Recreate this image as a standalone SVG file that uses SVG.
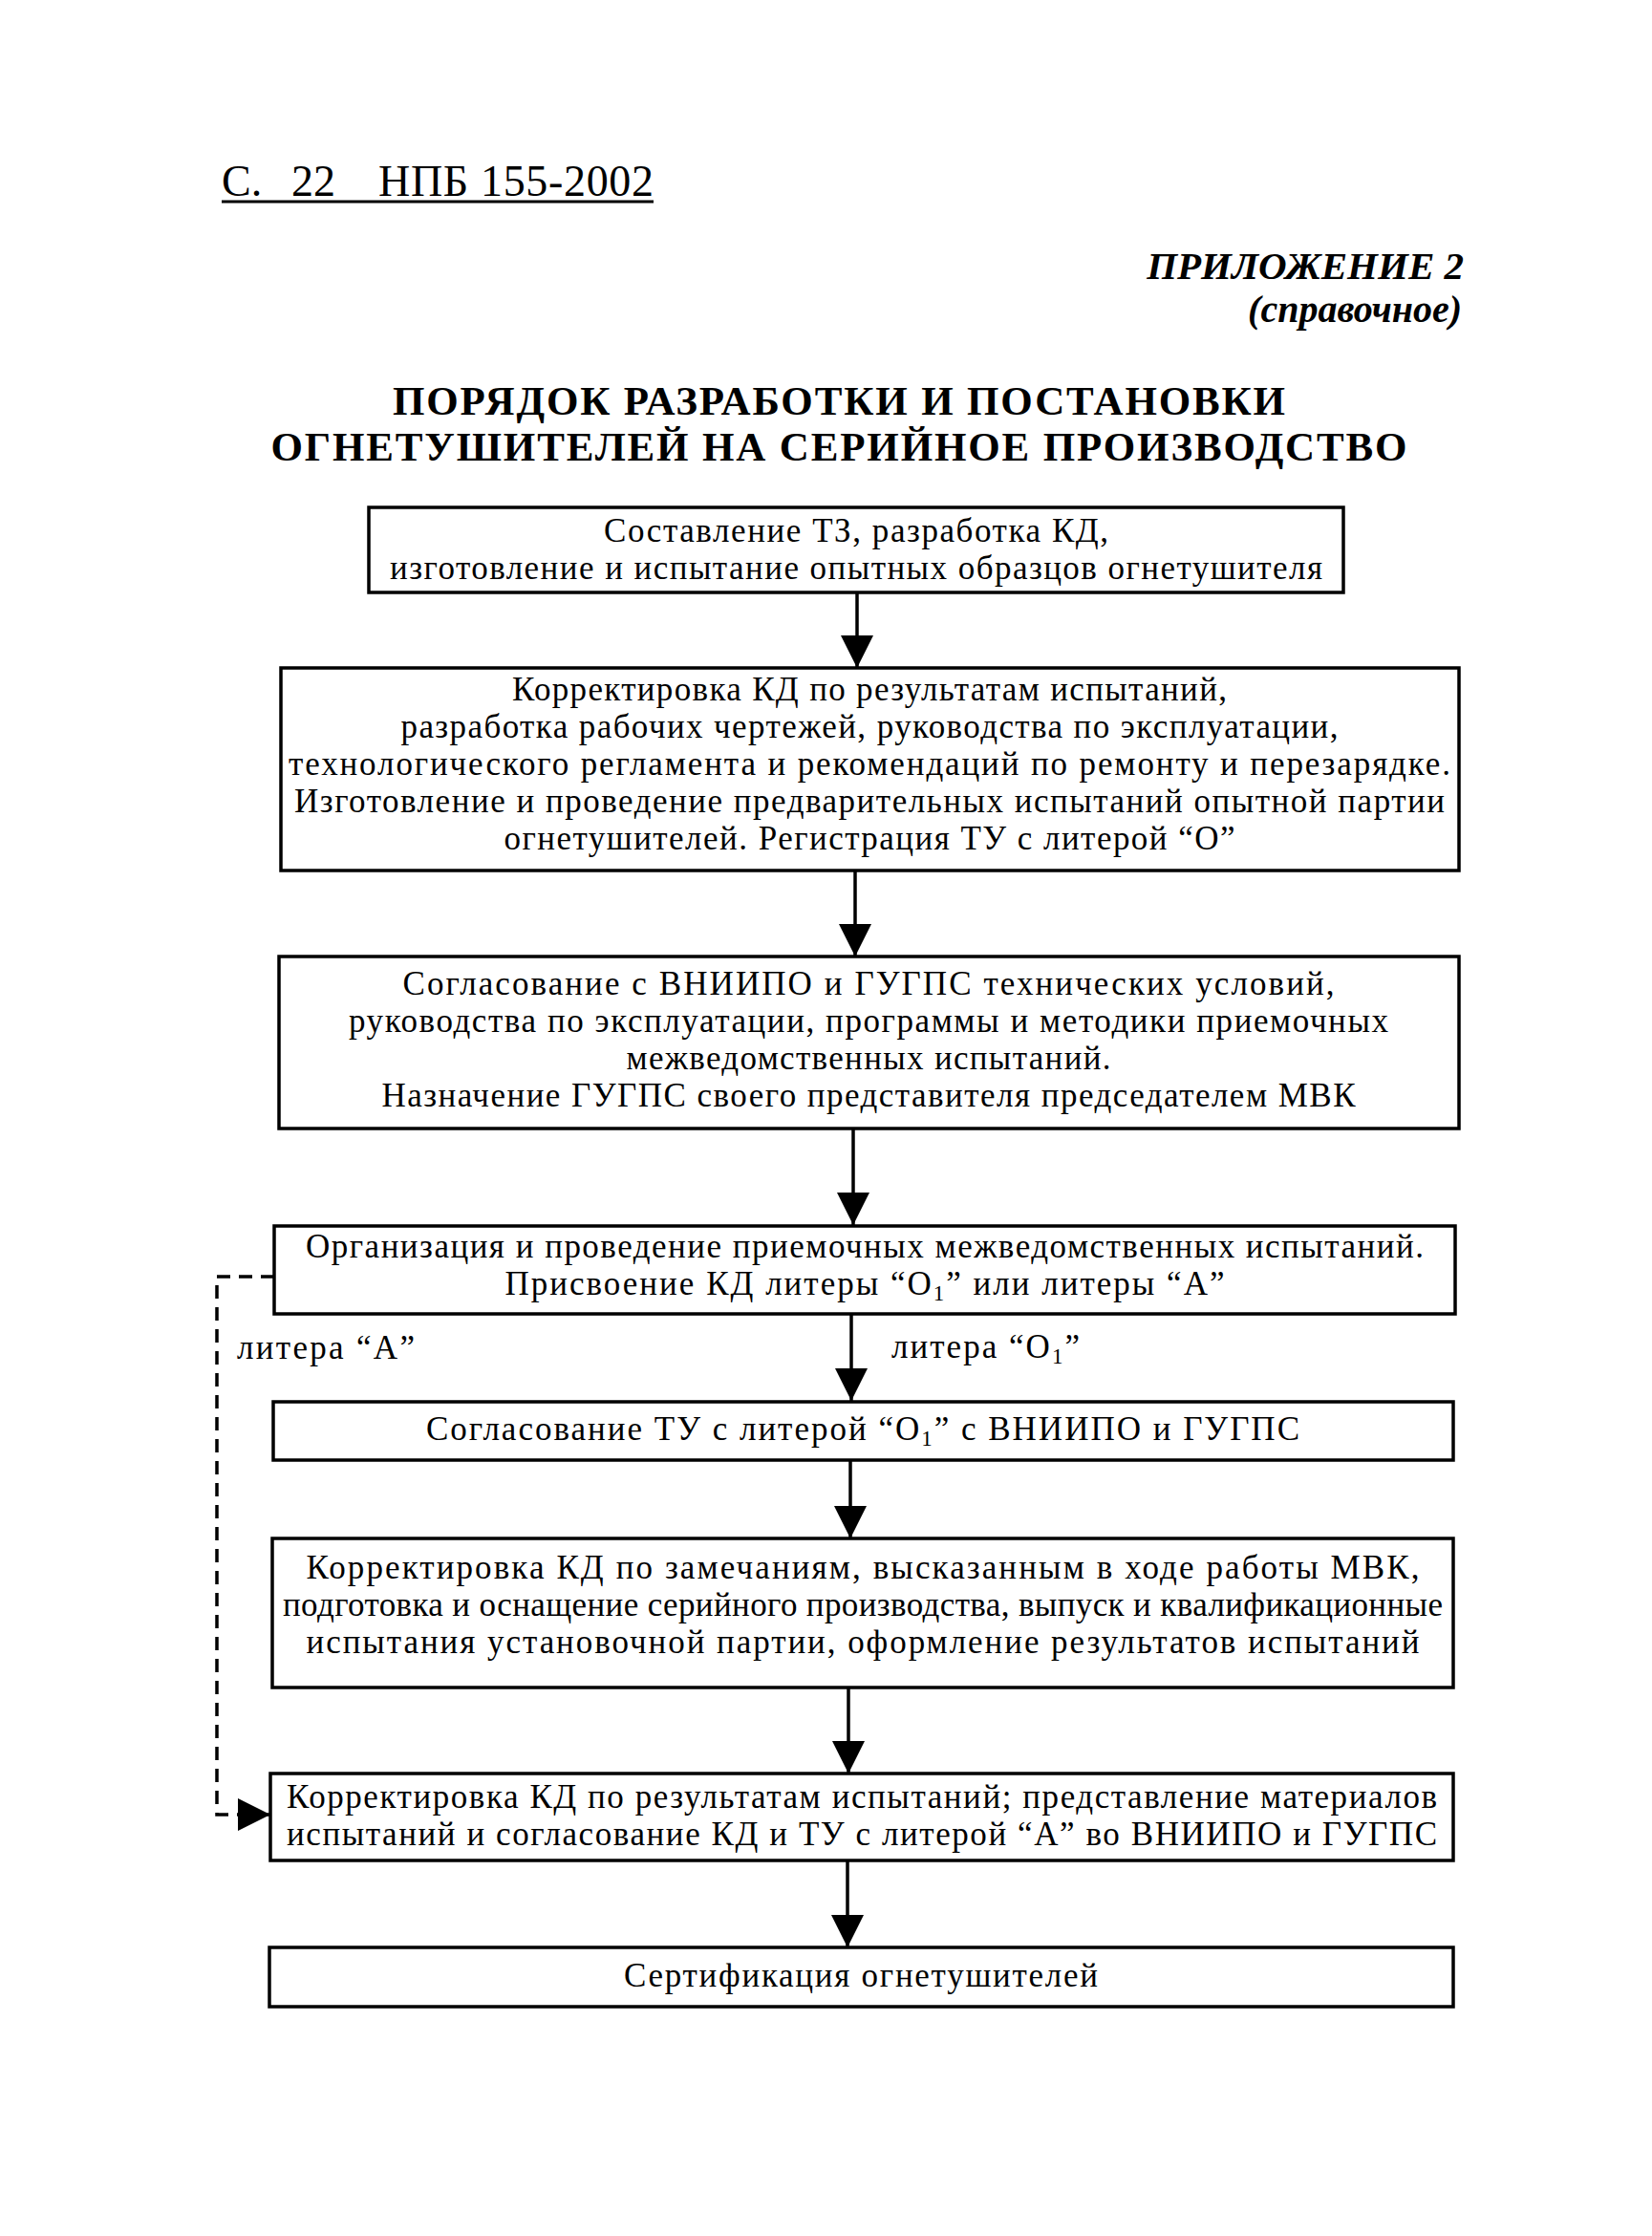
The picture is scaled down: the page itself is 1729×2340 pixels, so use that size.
<svg xmlns="http://www.w3.org/2000/svg" width="1729" height="2340" viewBox="0 0 1729 2340">
<style>
text{font-family:"Liberation Serif","Times New Roman",serif;fill:#000}
.t{font-size:35px;text-anchor:middle}
.lbl{font-size:35px}
.box{fill:#fff;stroke:#000;stroke-width:3.5}
.ar{fill:none;stroke:#000;stroke-width:3.5;marker-end:url(#ah)}
.dash{fill:none;stroke:#000;stroke-width:3.5;stroke-dasharray:14 9}
.sub{font-size:23px}
</style>
<defs>
<marker id="ah" markerUnits="userSpaceOnUse" markerWidth="34" markerHeight="34" viewBox="0 0 32 32" refX="32" refY="16" orient="auto">
<path d="M0,0 L32,16 L0,32 z" fill="#000"/>
</marker>
</defs>
<rect width="1729" height="2340" fill="#fff"/>
<g id="header">
<text x="232" y="205" style="font-size:46px">С.</text>
<text x="305" y="205" style="font-size:46px">22</text>
<text x="396" y="205" style="font-size:46px" textLength="288">НПБ 155-2002</text>
<line x1="232" y1="211" x2="684" y2="211" stroke="#000" stroke-width="3"/>
<text x="1532" y="292" style="font-size:41px;font-weight:bold;font-style:italic;text-anchor:end">ПРИЛОЖЕНИЕ 2</text>
<text x="1530" y="337" style="font-size:40px;font-weight:bold;font-style:italic;text-anchor:end">(справочное)</text>
<text x="878" y="434" style="font-size:43px;font-weight:bold;text-anchor:middle" textLength="934">ПОРЯДОК РАЗРАБОТКИ И ПОСТАНОВКИ</text>
<text x="878" y="482" style="font-size:43px;font-weight:bold;text-anchor:middle" textLength="1189">ОГНЕТУШИТЕЛЕЙ НА СЕРИЙНОЕ ПРОИЗВОДСТВО</text>
</g>
<g id="connectors">
<line class="ar" x1="897" y1="620" x2="897" y2="699"/>
<line class="ar" x1="895" y1="911" x2="895" y2="1001"/>
<line class="ar" x1="893" y1="1181" x2="893" y2="1282"/>
<line class="ar" x1="891" y1="1375" x2="891" y2="1466"/>
<line class="ar" x1="890" y1="1528" x2="890" y2="1610"/>
<line class="ar" x1="888" y1="1766" x2="888" y2="1856"/>
<line class="ar" x1="887" y1="1947" x2="887" y2="2038"/>
<polyline class="dash" points="287,1336 227,1336 227,1899 252,1899"/>
<line class="ar" x1="250" y1="1899" x2="283" y2="1899"/>
<text class="lbl" x="248" y="1422" textLength="186">литера “А”</text>
<text class="lbl" x="933" y="1421" textLength="197">литера “О<tspan class="sub" dy="6">1</tspan><tspan dy="-6">”</tspan></text>
</g>
<g id="n1">
<rect class="box" x="386" y="531" width="1020" height="89"/>
<text class="t" x="896" y="567" textLength="528">Составление ТЗ, разработка КД,</text>
<text class="t" x="896" y="606" textLength="976">изготовление и испытание опытных образцов огнетушителя</text>
</g>
<g id="n2">
<rect class="box" x="294" y="699" width="1233" height="212"/>
<text class="t" x="910" y="733" textLength="748">Корректировка КД по результатам испытаний,</text>
<text class="t" x="910" y="772" textLength="981">разработка рабочих чертежей, руководства по эксплуатации,</text>
<text class="t" x="910" y="811" textLength="1216">технологического регламента и рекомендаций по ремонту и перезарядке.</text>
<text class="t" x="910" y="850" textLength="1204">Изготовление и проведение предварительных испытаний опытной партии</text>
<text class="t" x="910" y="889" textLength="765">огнетушителей. Регистрация ТУ с литерой “О”</text>
</g>
<g id="n3">
<rect class="box" x="292" y="1001" width="1235" height="180"/>
<text class="t" x="909" y="1041" textLength="975">Согласование с ВНИИПО и ГУГПС технических условий,</text>
<text class="t" x="909" y="1080" textLength="1088">руководства по эксплуатации, программы и методики приемочных</text>
<text class="t" x="909" y="1119" textLength="507">межведомственных испытаний.</text>
<text class="t" x="909" y="1158" textLength="1019">Назначение ГУГПС своего представителя председателем МВК</text>
</g>
<g id="n4">
<rect class="box" x="287" y="1283" width="1236" height="92"/>
<text class="t" x="905" y="1316" textLength="1170">Организация и проведение приемочных межведомственных испытаний.</text>
<text class="t" x="905" y="1355" textLength="753">Присвоение КД литеры “О<tspan class="sub" dy="6">1</tspan><tspan dy="-6">” или литеры “А”</tspan></text>
</g>
<g id="n5">
<rect class="box" x="286" y="1467" width="1235" height="61"/>
<text class="t" x="903" y="1507" textLength="914">Согласование ТУ с литерой “О<tspan class="sub" dy="6">1</tspan><tspan dy="-6">” с ВНИИПО и ГУГПС</tspan></text>
</g>
<g id="n6">
<rect class="box" x="285" y="1610" width="1236" height="156"/>
<text class="t" x="903" y="1652" textLength="1165">Корректировка КД по замечаниям, высказанным в ходе работы МВК,</text>
<text class="t" x="903" y="1691" textLength="1214">подготовка и оснащение серийного производства, выпуск и квалификационные</text>
<text class="t" x="903" y="1730" textLength="1165">испытания установочной партии, оформление результатов испытаний</text>
</g>
<g id="n7">
<rect class="box" x="283" y="1856" width="1238" height="91"/>
<text class="t" x="902" y="1892" textLength="1204">Корректировка КД по результатам испытаний; представление материалов</text>
<text class="t" x="902" y="1931" textLength="1204">испытаний и согласование КД и ТУ с литерой “А” во ВНИИПО и ГУГПС</text>
</g>
<g id="n8">
<rect class="box" x="282" y="2038" width="1239" height="62"/>
<text class="t" x="901" y="2079" textLength="496">Сертификация огнетушителей</text>
</g>
</svg>
